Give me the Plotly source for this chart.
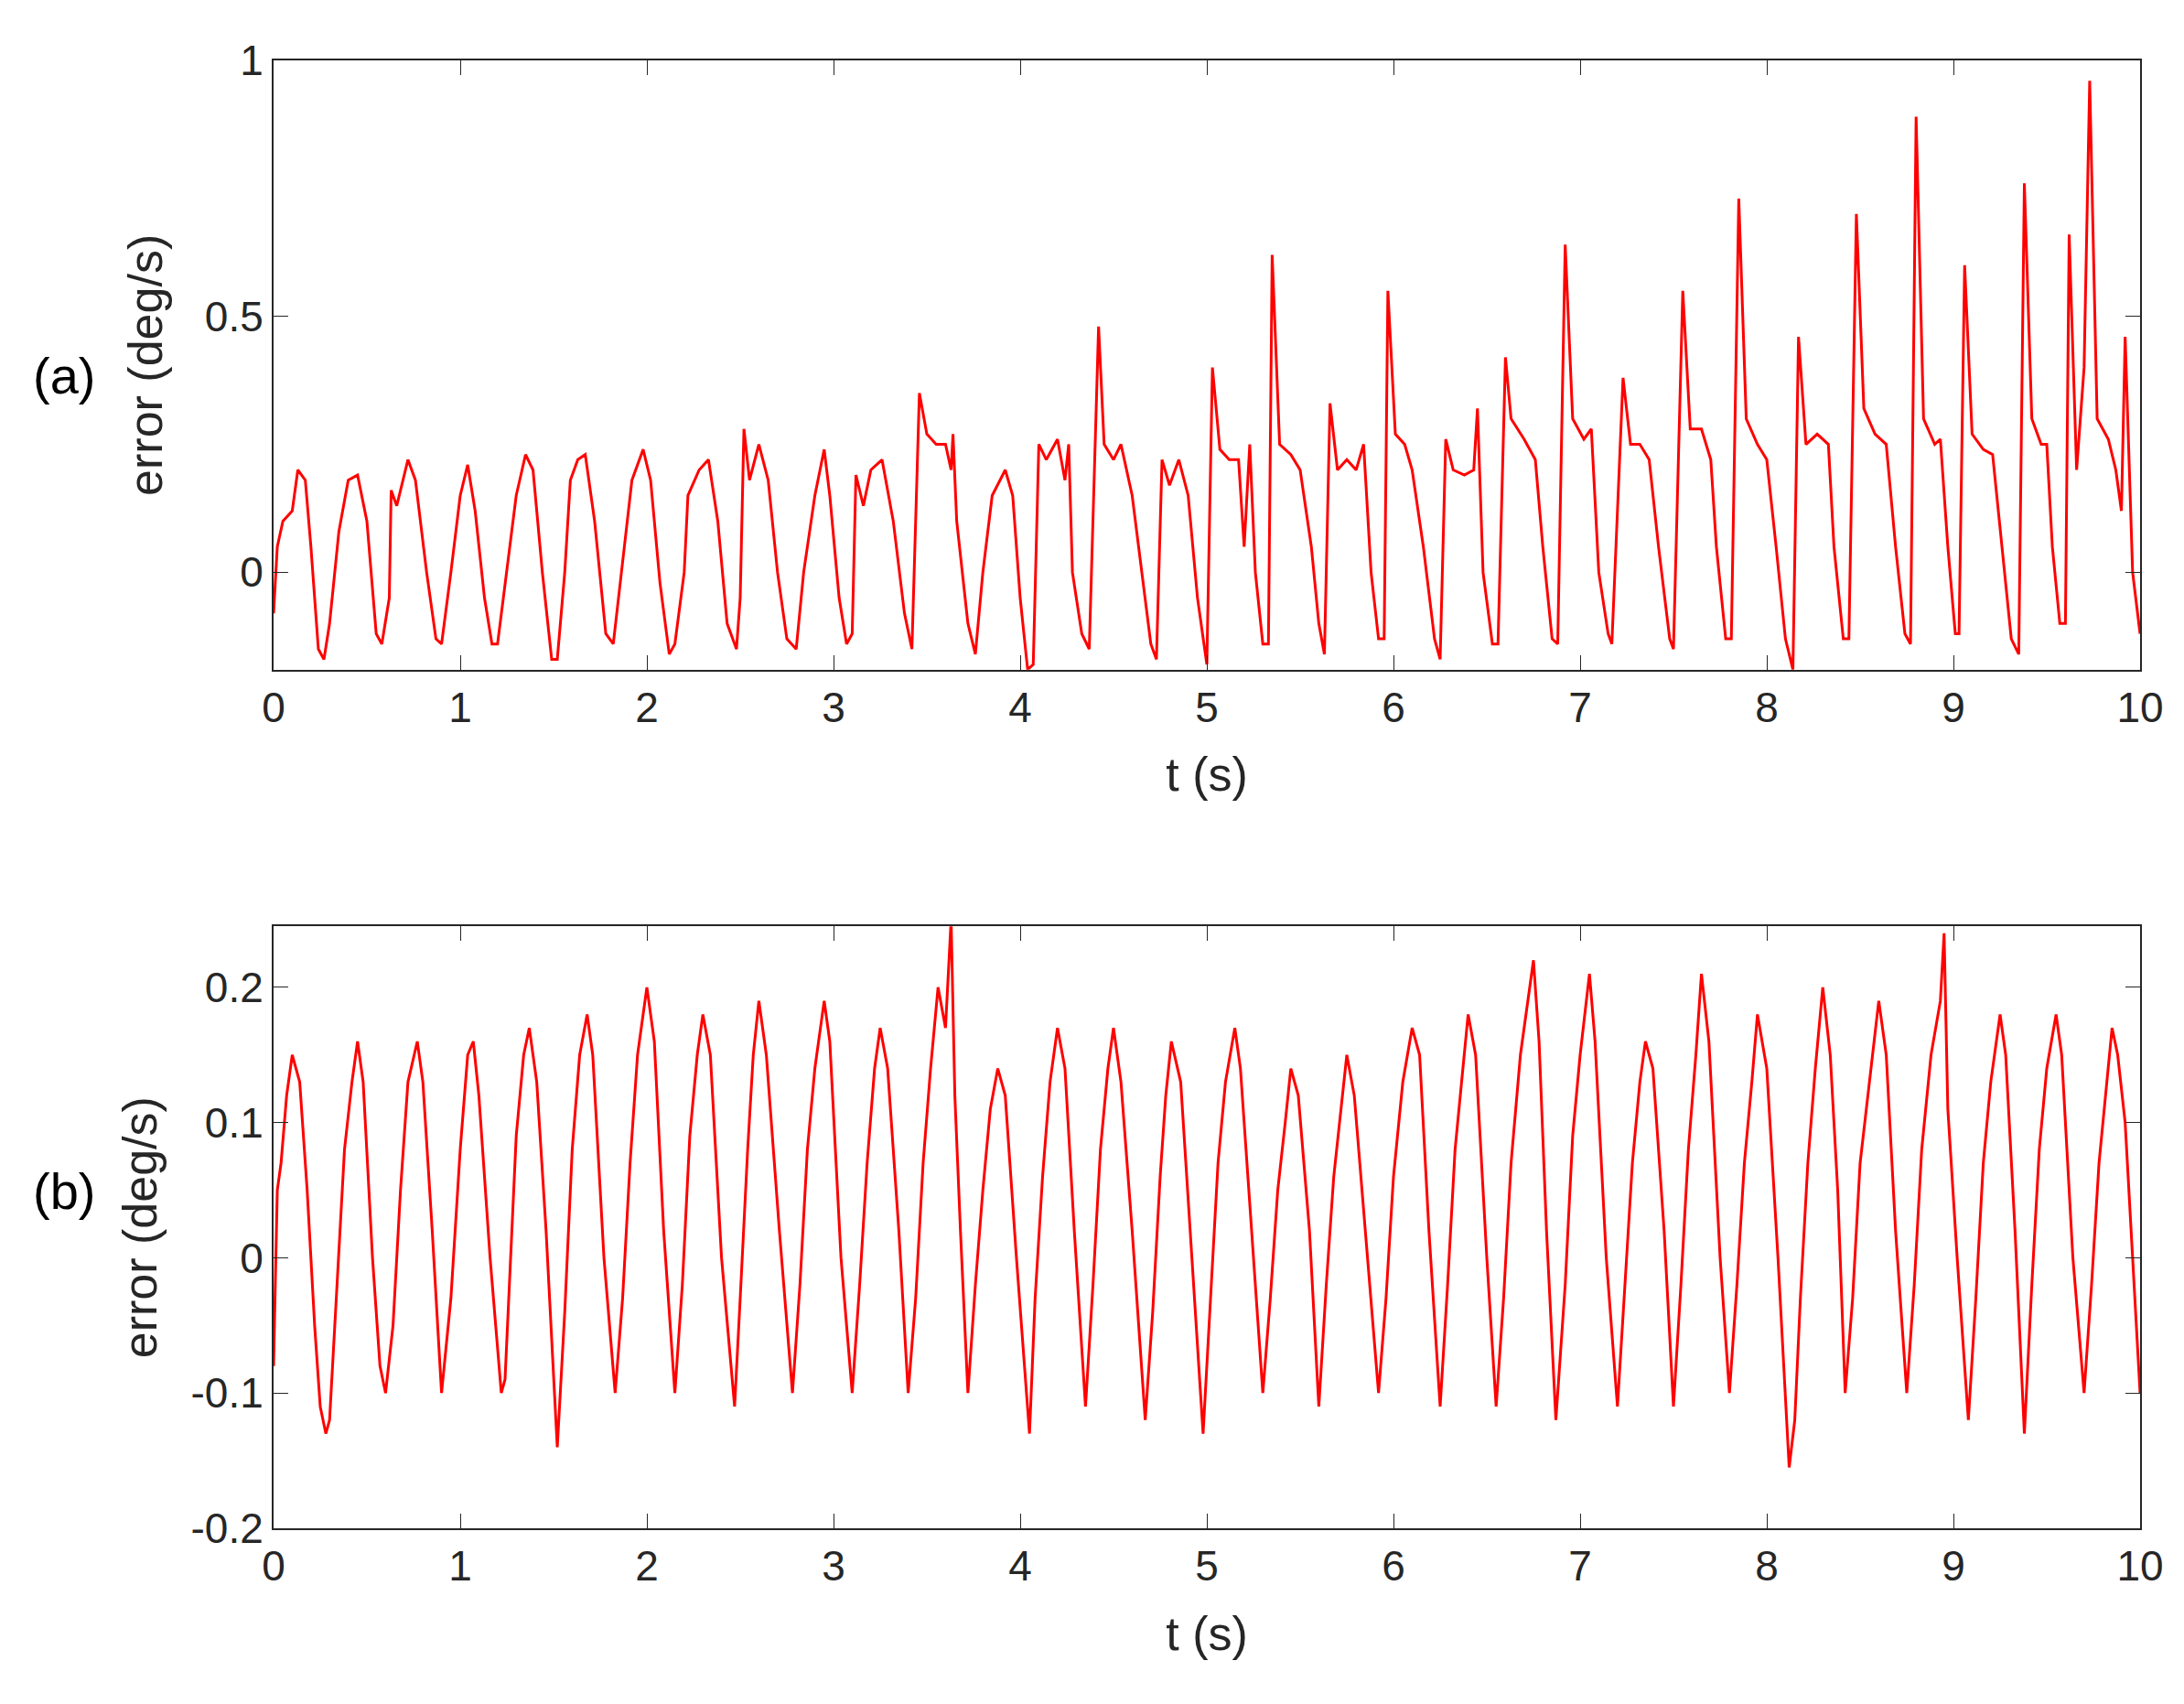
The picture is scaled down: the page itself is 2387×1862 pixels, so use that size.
import plotly.graph_objects as go
from plotly.subplots import make_subplots

t_a = [0,0.02,0.05,0.1,0.13,0.17,0.2,0.24,0.27,
0.3,0.35,0.4,0.45,0.5,0.55,0.58,
0.62,0.63,0.66,0.72,0.76,0.82,0.87,0.9,
0.95,1.0,1.04,1.08,1.13,1.17,1.2,
1.25,1.3,1.35,1.39,1.44,1.49,1.52,
1.56,1.59,1.63,1.67,1.72,1.78,1.82,
1.87,1.92,1.98,2.02,2.07,2.12,2.15,
2.2,2.22,2.28,2.33,2.38,2.43,2.48,
2.5,2.52,2.55,2.6,2.65,2.7,2.75,2.8,
2.84,2.9,2.95,2.98,3.03,3.07,3.1,
3.12,3.16,3.2,3.26,3.32,3.38,3.42,
3.46,3.5,3.55,3.6,3.63,3.64,3.66,3.72,3.76,
3.8,3.85,3.92,3.96,4.0,4.04,4.07,
4.1,4.14,4.2,4.24,4.26,4.28,4.33,4.37,
4.42,4.45,4.5,4.54,4.6,4.65,4.7,4.73,
4.76,4.8,4.85,4.9,4.95,5.0,
5.03,5.07,5.12,5.17,5.2,5.23,5.26,5.3,5.33,
5.35,5.39,5.45,5.5,5.56,5.6,5.63,
5.66,5.7,5.75,5.8,5.84,5.88,5.92,5.95,
5.97,6.01,6.06,6.1,6.16,6.22,6.25,
6.28,6.32,6.38,6.43,6.45,6.48,6.53,6.56,
6.6,6.63,6.7,6.76,6.8,6.85,6.88,
6.92,6.96,7.02,7.06,7.1,7.15,7.17,
7.23,7.27,7.32,7.37,7.42,7.48,7.5,
7.55,7.59,7.65,7.7,7.73,7.78,7.81,
7.85,7.89,7.95,8.0,8.05,8.1,8.14,
8.17,8.21,8.27,8.33,8.36,8.41,8.44,
8.48,8.52,8.58,8.64,8.69,8.74,8.77,
8.8,8.84,8.9,8.93,8.97,9.01,9.03,
9.06,9.1,9.16,9.21,9.26,9.31,9.35,
9.38,9.42,9.47,9.5,9.53,9.57,9.6,
9.62,9.66,9.7,9.73,9.77,9.83,9.87,9.9,9.92,9.96,10.0]
e_a = [-0.08,0.05,0.1,0.12,0.2,0.18,0.05,-0.15,-0.17,
-0.1,0.08,0.18,0.19,0.1,-0.12,-0.14,
-0.05,0.16,0.13,0.22,0.18,0.0,-0.13,-0.14,
0.0,0.15,0.21,0.12,-0.05,-0.14,-0.14,
0.0,0.15,0.23,0.2,0.0,-0.17,-0.17,
0.0,0.18,0.22,0.23,0.1,-0.12,-0.14,
0.02,0.18,0.24,0.18,-0.02,-0.16,-0.14,
0.0,0.15,0.2,0.22,0.1,-0.1,-0.15,
-0.05,0.28,0.18,0.25,0.18,0.0,-0.13,-0.15,
0.0,0.15,0.24,0.15,-0.05,-0.14,-0.12,
0.19,0.13,0.2,0.22,0.1,-0.08,-0.15,
0.35,0.27,0.25,0.25,0.2,0.27,0.1,-0.1,-0.16,
0.0,0.15,0.2,0.15,-0.05,-0.19,-0.18,
0.25,0.22,0.26,0.18,0.25,0.0,-0.12,-0.15,
0.48,0.25,0.22,0.25,0.15,0.0,-0.14,-0.17,
0.22,0.17,0.22,0.15,-0.05,-0.18,
0.4,0.24,0.22,0.22,0.05,0.25,0.0,-0.14,-0.14,
0.62,0.25,0.23,0.2,0.05,-0.1,-0.16,
0.33,0.2,0.22,0.2,0.25,0.0,-0.13,-0.13,
0.55,0.27,0.25,0.2,0.05,-0.13,-0.17,
0.26,0.2,0.19,0.2,0.32,0.0,-0.14,-0.14,
0.42,0.3,0.26,0.22,0.05,-0.13,-0.14,
0.64,0.3,0.26,0.28,0.0,-0.12,-0.14,
0.38,0.25,0.25,0.22,0.05,-0.13,-0.15,
0.55,0.28,0.28,0.22,0.05,-0.13,-0.13,
0.73,0.3,0.25,0.22,0.05,-0.13,-0.19,
0.46,0.25,0.27,0.25,0.05,-0.13,-0.13,
0.7,0.32,0.27,0.25,0.05,-0.12,-0.14,
0.89,0.3,0.25,0.26,0.05,-0.12,-0.12,
0.6,0.27,0.24,0.23,0.05,-0.13,-0.16,
0.76,0.3,0.25,0.25,0.05,-0.1,-0.1,
0.66,0.2,0.4,0.96,0.3,0.26,0.2,0.12,0.46,0.0,-0.12]

t_b = [0,0.02,0.04,0.07,0.1,0.14,0.18,0.22,0.25,0.28,0.3,
0.34,0.38,0.42,0.45,0.48,0.53,0.57,0.6,
0.64,0.68,0.72,0.77,0.8,0.85,0.9,
0.95,1.0,1.04,1.07,1.1,1.16,1.22,1.24,
1.27,1.3,1.34,1.37,1.41,1.46,1.52,
1.56,1.6,1.64,1.68,1.71,1.77,1.83,
1.87,1.91,1.95,2.0,2.04,2.09,2.15,
2.19,2.23,2.27,2.3,2.34,2.4,2.47,
2.5,2.54,2.57,2.6,2.64,2.71,2.78,
2.82,2.86,2.9,2.95,2.98,3.04,3.1,
3.14,3.18,3.22,3.25,3.29,3.35,3.4,
3.44,3.48,3.52,3.56,3.6,3.63,3.65,3.68,3.72,
3.76,3.8,3.84,3.88,3.92,3.98,4.05,
4.08,4.12,4.16,4.2,4.24,4.29,4.35,
4.39,4.43,4.47,4.5,4.54,4.6,4.67,
4.71,4.75,4.78,4.81,4.86,4.92,4.98,
5.02,5.06,5.1,5.15,5.18,5.24,5.3,
5.34,5.38,5.42,5.45,5.49,5.55,5.6,
5.64,5.68,5.72,5.75,5.79,5.86,5.92,
5.96,6.0,6.05,6.1,6.14,6.19,6.25,
6.29,6.33,6.37,6.4,6.44,6.5,6.55,
6.59,6.63,6.68,6.75,6.78,6.82,6.87,
6.92,6.96,7.0,7.05,7.08,7.14,7.2,
7.24,7.28,7.32,7.35,7.39,7.45,7.5,
7.54,7.58,7.62,7.65,7.69,7.75,7.8,
7.84,7.88,7.92,7.95,8.0,8.06,8.12,8.15,
8.18,8.22,8.26,8.3,8.34,8.38,8.42,
8.46,8.5,8.55,8.6,8.64,8.69,8.75,
8.79,8.83,8.88,8.93,8.95,8.97,9.02,9.08,
9.12,9.16,9.2,9.25,9.28,9.33,9.38,
9.42,9.46,9.5,9.55,9.58,9.64,9.7,
9.74,9.78,9.82,9.85,9.88,9.92,9.96,10.0]
e_b = [-0.08,0.05,0.07,0.12,0.15,0.13,0.05,-0.05,-0.11,-0.13,-0.12,
-0.02,0.08,0.13,0.16,0.13,0.0,-0.08,-0.1,
-0.05,0.05,0.13,0.16,0.13,0.02,-0.1,
-0.03,0.08,0.15,0.16,0.12,0.0,-0.1,-0.09,
0.0,0.09,0.15,0.17,0.13,0.02,-0.14,
-0.04,0.08,0.15,0.18,0.15,0.0,-0.1,
-0.03,0.07,0.15,0.2,0.16,0.02,-0.1,
-0.02,0.09,0.15,0.18,0.15,0.0,-0.11,
-0.03,0.08,0.15,0.19,0.15,0.02,-0.1,
-0.02,0.08,0.14,0.19,0.16,0.0,-0.1,
-0.02,0.07,0.14,0.17,0.14,0.02,-0.1,
-0.03,0.07,0.14,0.2,0.17,0.25,0.12,0.02,-0.1,
-0.02,0.05,0.11,0.14,0.12,0.0,-0.13,
-0.03,0.06,0.13,0.17,0.14,0.02,-0.11,
-0.02,0.08,0.14,0.17,0.13,0.02,-0.12,
-0.04,0.06,0.12,0.16,0.13,0.0,-0.13,
-0.03,0.07,0.13,0.17,0.14,0.02,-0.1,
-0.03,0.05,0.1,0.14,0.12,0.02,-0.11,
-0.02,0.06,0.11,0.15,0.12,0.0,-0.1,
-0.03,0.06,0.13,0.17,0.15,0.02,-0.11,
-0.02,0.08,0.14,0.18,0.15,0.0,-0.11,
-0.03,0.07,0.15,0.22,0.16,0.02,-0.12,
-0.02,0.09,0.15,0.21,0.16,0.0,-0.11,
-0.02,0.07,0.13,0.16,0.14,0.02,-0.11,
-0.02,0.08,0.15,0.21,0.16,0.0,-0.1,
-0.02,0.07,0.13,0.18,0.14,0.0,-0.155,-0.12,
-0.03,0.07,0.14,0.2,0.15,0.05,-0.1,
-0.03,0.07,0.13,0.19,0.15,0.02,-0.1,
-0.02,0.08,0.15,0.19,0.24,0.11,0.0,-0.12,
-0.03,0.07,0.13,0.18,0.15,0.02,-0.13,
-0.02,0.08,0.14,0.18,0.15,0.0,-0.1,
-0.02,0.07,0.13,0.17,0.15,0.1,0.0,-0.1]

fig = make_subplots(rows=2, cols=1, vertical_spacing=0.0023, row_heights=[0.586, 0.414])
fig.add_trace(go.Scatter(x=t_a, y=e_a, mode="lines", line=dict(color="#ff0000", width=3)), row=1, col=1)
fig.add_trace(go.Scatter(x=t_b, y=e_b, mode="lines", line=dict(color="#ff0000", width=3)), row=2, col=1)

fig.update_layout(width=2387, height=1862, showlegend=False, plot_bgcolor="white", paper_bgcolor="white",
                  margin=dict(l=291, r=56, t=58, b=200),
                  font=dict(family="Liberation Sans, Arial", size=46, color="#262626"))
ax = dict(showline=True, linecolor="#262626", linewidth=2, mirror="ticks", ticks="inside", ticklen=16,
          tickcolor="#262626", showgrid=False, zeroline=False)
fig.update_layout(yaxis2_domain=[0, 0.41], yaxis_domain=[0.585, 1])
for r in (1, 2):
    fig.update_xaxes(range=[0, 10], dtick=1, title=dict(text="t (s)", font=dict(size=52), standoff=30), row=r, col=1, **ax)
fig.update_yaxes(range=[-0.19, 1.0], tickvals=[0, 0.5, 1], ticktext=["0", "0.5", "1"],
                 title=dict(text="error (deg/s)", font=dict(size=52), standoff=30), row=1, col=1, **ax)
fig.update_yaxes(range=[-0.2, 0.245], tickvals=[-0.2, -0.1, 0, 0.1, 0.2], ticktext=["-0.2", "-0.1", "0", "0.1", "0.2"],
                 title=dict(text="error (deg/s)", font=dict(size=52), standoff=20), row=2, col=1, **ax)
fig.add_annotation(text="(a)", x=-0.13, y=0.806, xref="paper", yref="paper", showarrow=False, font=dict(size=56, color="black"))
fig.add_annotation(text="(b)", x=-0.13, y=0.209, xref="paper", yref="paper", showarrow=False, font=dict(size=56, color="black"))
fig.write_html("out.html")
